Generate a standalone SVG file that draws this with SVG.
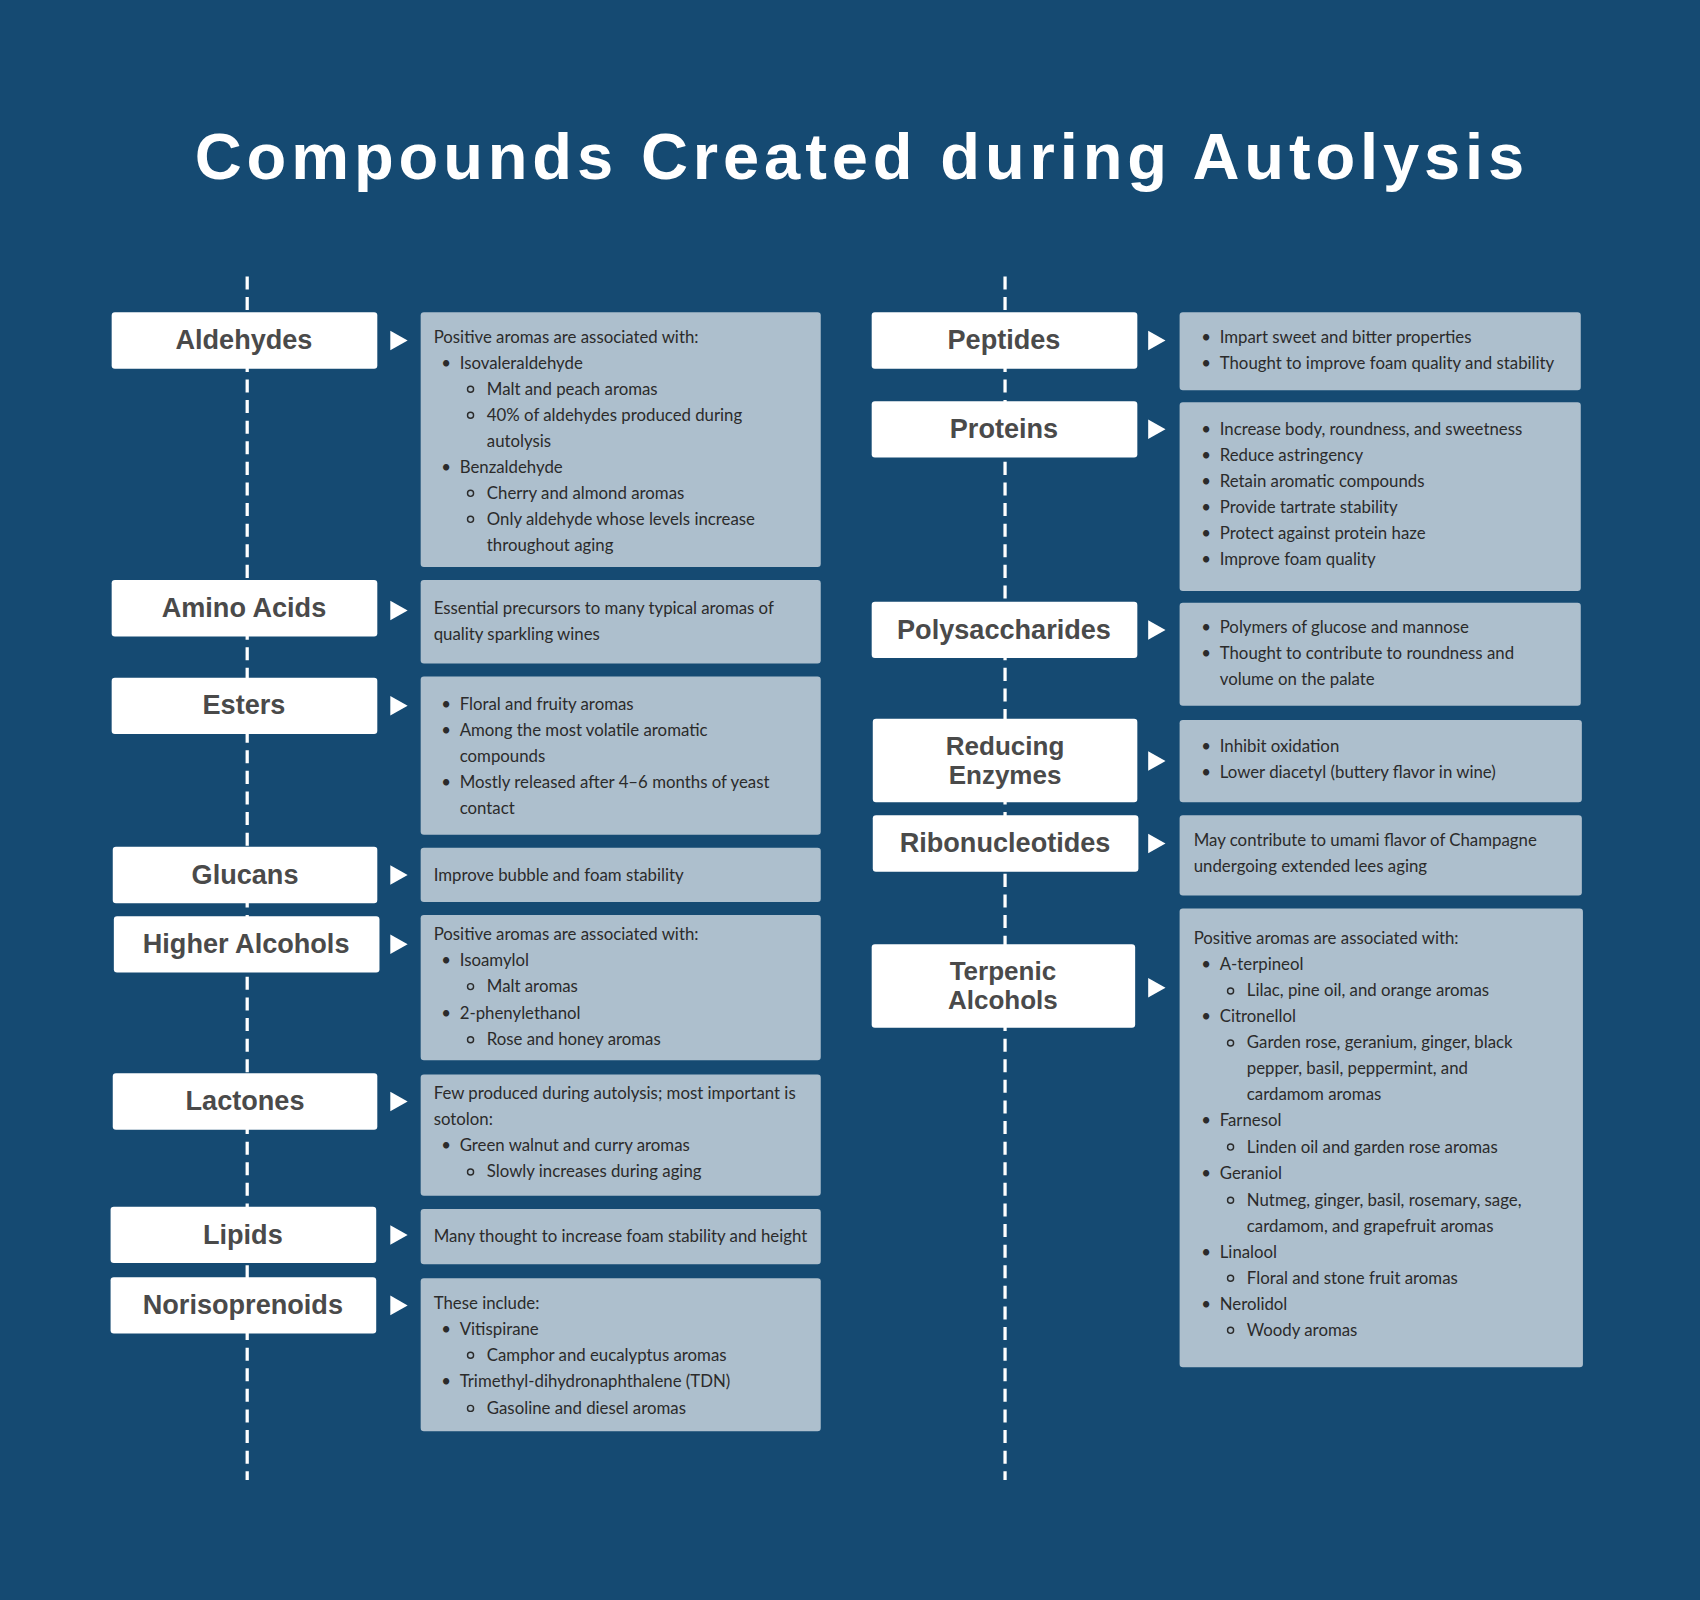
<svg xmlns="http://www.w3.org/2000/svg" width="1700" height="1600" viewBox="0 0 1700 1600">
<style>
.lb{fill:#fff;}
.lt{font-family:"Liberation Sans",Arial,sans-serif;font-weight:bold;font-size:25px;fill:#4a4a4a;text-anchor:middle;}
.lt2{font-family:"Liberation Sans",Arial,sans-serif;font-weight:bold;font-size:24px;fill:#4a4a4a;text-anchor:middle;}
.db{fill:#adbfcd;}
.d{font-family:Lato,"Open Sans",sans-serif;font-size:15.5px;fill:#2b2b2b;}
.ar{fill:#fff;}
.sb{fill:none;stroke:#2b2b2b;stroke-width:1.3;}
.dash{stroke:#fff;stroke-width:3;stroke-dasharray:12,7;}
</style>
<rect width="1700" height="1600" fill="#154a72"/>
<g transform="scale(1.0842)">
<text x="795" y="165" font-family="Liberation Sans,Arial,sans-serif" font-weight="bold" font-size="60" fill="#fff" text-anchor="middle" letter-spacing="4.5">Compounds Created during Autolysis</text>
<g id="connectors">
<line class="dash" x1="228" y1="255" x2="228" y2="1365"/>
<line class="dash" x1="927" y1="255" x2="927" y2="1365"/>
<polygon class="ar" points="360,305 376,314 360,323"/>
<polygon class="ar" points="360,554 376,563 360,572"/>
<polygon class="ar" points="360,642 376,651 360,660"/>
<polygon class="ar" points="360,798 376,807 360,816"/>
<polygon class="ar" points="360,862 376,871 360,880"/>
<polygon class="ar" points="360,1007 376,1016 360,1025"/>
<polygon class="ar" points="360,1130 376,1139 360,1148"/>
<polygon class="ar" points="360,1195 376,1204 360,1213"/>
<polygon class="ar" points="1059,305 1075,314 1059,323"/>
<polygon class="ar" points="1059,387 1075,396 1059,405"/>
<polygon class="ar" points="1059,572 1075,581 1059,590"/>
<polygon class="ar" points="1059,693 1075,702 1059,711"/>
<polygon class="ar" points="1059,769 1075,778 1059,787"/>
<polygon class="ar" points="1059,902 1075,911 1059,920"/>
</g>
<g id="aldehydes">
<rect class="lb" x="103" y="288" width="245" height="52" rx="3"/><text class="lt" x="225" y="322">Aldehydes</text>
<rect class="db" x="388" y="288" width="369" height="235" rx="3"/>
<text class="d" x="400" y="316">Positive aromas are associated with:</text>
<text class="d" x="407" y="340">•</text><text class="d" x="424" y="340">Isovaleraldehyde</text>
<circle class="sb" cx="434" cy="359" r="2.8"/><text class="d" x="449" y="364">Malt and peach aromas</text>
<circle class="sb" cx="434" cy="383" r="2.8"/><text class="d" x="449" y="388">40% of aldehydes produced during</text>
<text class="d" x="449" y="412">autolysis</text>
<text class="d" x="407" y="436">•</text><text class="d" x="424" y="436">Benzaldehyde</text>
<circle class="sb" cx="434" cy="455" r="2.8"/><text class="d" x="449" y="460">Cherry and almond aromas</text>
<circle class="sb" cx="434" cy="479" r="2.8"/><text class="d" x="449" y="484">Only aldehyde whose levels increase</text>
<text class="d" x="449" y="508">throughout aging</text>
</g>
<g id="amino">
<rect class="lb" x="103" y="535" width="245" height="52" rx="3"/><text class="lt" x="225" y="569">Amino Acids</text>
<rect class="db" x="388" y="535" width="369" height="77" rx="3"/>
<text class="d" x="400" y="566">Essential precursors to many typical aromas of</text>
<text class="d" x="400" y="590">quality sparkling wines</text>
</g>
<g id="esters">
<rect class="lb" x="103" y="625" width="245" height="52" rx="3"/><text class="lt" x="225" y="659">Esters</text>
<rect class="db" x="388" y="624" width="369" height="146" rx="3"/>
<text class="d" x="407" y="655">•</text><text class="d" x="424" y="655">Floral and fruity aromas</text>
<text class="d" x="407" y="679">•</text><text class="d" x="424" y="679"> Among the most volatile aromatic</text>
<text class="d" x="424" y="703">compounds</text>
<text class="d" x="407" y="727">•</text><text class="d" x="424" y="727"> Mostly released after 4–6 months of yeast</text>
<text class="d" x="424" y="751">contact</text>
</g>
<g id="glucans">
<rect class="lb" x="104" y="781" width="244" height="52" rx="3"/><text class="lt" x="226" y="815">Glucans</text>
<rect class="db" x="388" y="782" width="369" height="50" rx="3"/>
<text class="d" x="400" y="813">Improve bubble and foam stability</text>
</g>
<g id="higher-alcohols">
<rect class="lb" x="105" y="845" width="245" height="52" rx="3"/><text class="lt" x="227" y="879">Higher Alcohols</text>
<rect class="db" x="388" y="844" width="369" height="134" rx="3"/>
<text class="d" x="400" y="867">Positive aromas are associated with:</text>
<text class="d" x="407" y="891">•</text><text class="d" x="424" y="891">Isoamylol</text>
<circle class="sb" cx="434" cy="910" r="2.8"/><text class="d" x="449" y="915">Malt aromas</text>
<text class="d" x="407" y="940">•</text><text class="d" x="424" y="940">2-phenylethanol</text>
<circle class="sb" cx="434" cy="959" r="2.8"/><text class="d" x="449" y="964">Rose and honey aromas</text>
</g>
<g id="lactones">
<rect class="lb" x="104" y="990" width="244" height="52" rx="3"/><text class="lt" x="226" y="1024">Lactones</text>
<rect class="db" x="388" y="991" width="369" height="112" rx="3"/>
<text class="d" x="400" y="1014">Few produced during autolysis; most important is</text>
<text class="d" x="400" y="1038">sotolon:</text>
<text class="d" x="407" y="1062">•</text><text class="d" x="424" y="1062">Green walnut and curry aromas</text>
<circle class="sb" cx="434" cy="1081" r="2.8"/><text class="d" x="449" y="1086">Slowly increases during aging</text>
</g>
<g id="lipids">
<rect class="lb" x="102" y="1113" width="245" height="52" rx="3"/><text class="lt" x="224" y="1147">Lipids</text>
<rect class="db" x="388" y="1115" width="369" height="51" rx="3"/>
<text class="d" x="400" y="1146">Many thought to increase foam stability and height</text>
</g>
<g id="norisoprenoids">
<rect class="lb" x="102" y="1178" width="245" height="52" rx="3"/><text class="lt" x="224" y="1212">Norisoprenoids</text>
<rect class="db" x="388" y="1179" width="369" height="141" rx="3"/>
<text class="d" x="400" y="1207">These include:</text>
<text class="d" x="407" y="1231">•</text><text class="d" x="424" y="1231">Vitispirane</text>
<circle class="sb" cx="434" cy="1250" r="2.8"/><text class="d" x="449" y="1255">Camphor and eucalyptus aromas</text>
<text class="d" x="407" y="1279">•</text><text class="d" x="424" y="1279">Trimethyl-dihydronaphthalene (TDN)</text>
<circle class="sb" cx="434" cy="1299" r="2.8"/><text class="d" x="449" y="1304">Gasoline and diesel aromas</text>
</g>
<g id="peptides">
<rect class="lb" x="804" y="288" width="245" height="52" rx="3"/><text class="lt" x="926" y="322">Peptides</text>
<rect class="db" x="1088" y="288" width="370" height="72" rx="3"/>
<text class="d" x="1108" y="316">•</text><text class="d" x="1125" y="316">Impart sweet and bitter properties</text>
<text class="d" x="1108" y="340">•</text><text class="d" x="1125" y="340">Thought to improve foam quality and stability</text>
</g>
<g id="proteins">
<rect class="lb" x="804" y="370" width="245" height="52" rx="3"/><text class="lt" x="926" y="404">Proteins</text>
<rect class="db" x="1088" y="371" width="370" height="174" rx="3"/>
<text class="d" x="1108" y="401">•</text><text class="d" x="1125" y="401">Increase body, roundness, and sweetness</text>
<text class="d" x="1108" y="425">•</text><text class="d" x="1125" y="425">Reduce astringency</text>
<text class="d" x="1108" y="449">•</text><text class="d" x="1125" y="449">Retain aromatic compounds</text>
<text class="d" x="1108" y="473">•</text><text class="d" x="1125" y="473">Provide tartrate stability</text>
<text class="d" x="1108" y="497">•</text><text class="d" x="1125" y="497">Protect against protein haze</text>
<text class="d" x="1108" y="521">•</text><text class="d" x="1125" y="521">Improve foam quality</text>
</g>
<g id="polysaccharides">
<rect class="lb" x="804" y="555" width="245" height="52" rx="3"/><text class="lt" x="926" y="589">Polysaccharides</text>
<rect class="db" x="1088" y="556" width="370" height="95" rx="3"/>
<text class="d" x="1108" y="584">•</text><text class="d" x="1125" y="584">Polymers of glucose and mannose</text>
<text class="d" x="1108" y="608">•</text><text class="d" x="1125" y="608">Thought to contribute to roundness and</text>
<text class="d" x="1125" y="632">volume on the palate</text>
</g>
<g id="reducing-enzymes">
<rect class="lb" x="805" y="663" width="244" height="77" rx="3"/><text class="lt2" x="927" y="696">Reducing</text><text class="lt2" x="927" y="723">Enzymes</text>
<rect class="db" x="1088" y="664" width="371" height="76" rx="3"/>
<text class="d" x="1108" y="694">•</text><text class="d" x="1125" y="694">Inhibit oxidation</text>
<text class="d" x="1108" y="718">•</text><text class="d" x="1125" y="718">Lower diacetyl (buttery flavor in wine)</text>
</g>
<g id="ribonucleotides">
<rect class="lb" x="805" y="752" width="245" height="52" rx="3"/><text class="lt" x="927" y="786">Ribonucleotides</text>
<rect class="db" x="1088" y="752" width="371" height="74" rx="3"/>
<text class="d" x="1101" y="780">May contribute to umami flavor of Champagne</text>
<text class="d" x="1101" y="804">undergoing extended lees aging</text>
</g>
<g id="terpenic-alcohols">
<rect class="lb" x="804" y="871" width="243" height="77" rx="3"/><text class="lt2" x="925" y="904">Terpenic</text><text class="lt2" x="925" y="931">Alcohols</text>
<rect class="db" x="1088" y="838" width="372" height="423" rx="3"/>
<text class="d" x="1101" y="871">Positive aromas are associated with:</text>
<text class="d" x="1108" y="895">•</text><text class="d" x="1125" y="895">A-terpineol</text>
<circle class="sb" cx="1135" cy="914" r="2.8"/><text class="d" x="1150" y="919">Lilac, pine oil, and orange aromas</text>
<text class="d" x="1108" y="943">•</text><text class="d" x="1125" y="943">Citronellol</text>
<circle class="sb" cx="1135" cy="962" r="2.8"/><text class="d" x="1150" y="967">Garden rose, geranium, ginger, black</text>
<text class="d" x="1150" y="991">pepper, basil, peppermint, and</text>
<text class="d" x="1150" y="1015">cardamom aromas</text>
<text class="d" x="1108" y="1039">•</text><text class="d" x="1125" y="1039">Farnesol</text>
<circle class="sb" cx="1135" cy="1058" r="2.8"/><text class="d" x="1150" y="1063">Linden oil and garden rose aromas</text>
<text class="d" x="1108" y="1087">•</text><text class="d" x="1125" y="1087">Geraniol</text>
<circle class="sb" cx="1135" cy="1107" r="2.8"/><text class="d" x="1150" y="1112">Nutmeg, ginger, basil, rosemary, sage,</text>
<text class="d" x="1150" y="1136">cardamom, and grapefruit aromas</text>
<text class="d" x="1108" y="1160">•</text><text class="d" x="1125" y="1160">Linalool</text>
<circle class="sb" cx="1135" cy="1179" r="2.8"/><text class="d" x="1150" y="1184">Floral and stone fruit aromas</text>
<text class="d" x="1108" y="1208">•</text><text class="d" x="1125" y="1208">Nerolidol</text>
<circle class="sb" cx="1135" cy="1227" r="2.8"/><text class="d" x="1150" y="1232">Woody aromas</text>
</g>
</g>
</svg>
